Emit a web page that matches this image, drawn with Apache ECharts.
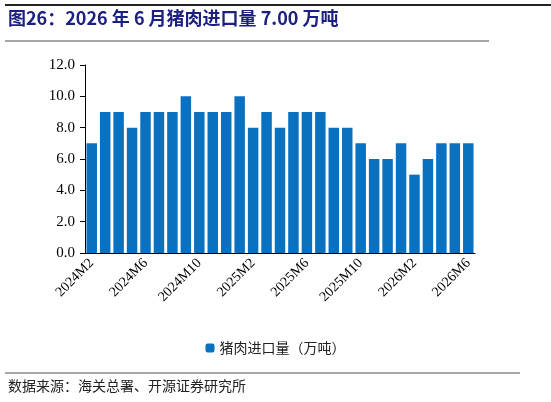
<!DOCTYPE html><html><head><meta charset="utf-8"><script src="https://cdn.jsdelivr.net/npm/echarts@6/dist/echarts.min.js"></script>
<style>body{margin:0}#c{width:551px;height:402px}</style></head><body><div id="c"></div><script>
const categories=['2024M2','2024M3','2024M4','2024M5','2024M6','2024M7','2024M8','2024M9','2024M10','2024M11','2024M12','2025M1','2025M2','2025M3','2025M4','2025M5','2025M6','2025M7','2025M8','2025M9','2025M10','2025M11','2025M12','2026M1','2026M2','2026M3','2026M4','2026M5','2026M6'];
const values=[7,9,9,8,9,9,9,10,9,9,9,10,8,9,8,9,9,9,8,8,7,6,6,7,5,6,7,7,7];
const seriesName='猪肉进口量（万吨）';
const chart=echarts.init(document.getElementById('c'));
const serif='"Times New Roman","Liberation Serif","Noto Serif CJK SC",serif';
chart.setOption({
 graphic:[
  {type:'line',shape:{x1:5,y1:5,x2:551,y2:5},style:{stroke:'#222',lineWidth:2}},
  {type:'text',left:8,top:9,style:{text:'图26：2026 年 6 月猪肉进口量 7.00 万吨',font:'bold 18px "Noto Sans CJK SC", serif',fill:'#1C2081'}},
  {type:'line',shape:{x1:5,y1:41,x2:489,y2:41},style:{stroke:'#888',lineWidth:1.5}},
  {type:'line',shape:{x1:5,y1:373,x2:520,y2:373},style:{stroke:'#888',lineWidth:1.5}},
  {type:'text',left:8,top:379,style:{text:'数据来源：海关总署、开源证券研究所',font:'14px "Noto Sans CJK SC"',fill:'#222'}}
 ],
 grid:{left:85,right:76,top:65,bottom:149},
 legend:{bottom:42,left:'center',itemWidth:9,itemHeight:9,textStyle:{fontSize:14,fontFamily:'"Noto Sans CJK SC"',color:'#222'},data:[seriesName]},
 xAxis:{type:'category',data:categories,axisTick:{show:false},axisLine:{lineStyle:{color:'#000'}},
  axisLabel:{interval:3,rotate:45,fontFamily:serif,fontSize:14,color:'#000',margin:8}},
 yAxis:{type:'value',min:0,max:12,interval:2,splitLine:{show:false},axisLine:{show:true,lineStyle:{color:'#000'}},axisTick:{show:true,inside:false},
  axisLabel:{formatter:v=>v.toFixed(1),fontFamily:serif,fontSize:15,color:'#000',margin:10}},
 series:[{name:seriesName,type:'bar',data:values,barCategoryGap:'22%',itemStyle:{color:'#0A70C0'}}]
});
</script></body></html>
